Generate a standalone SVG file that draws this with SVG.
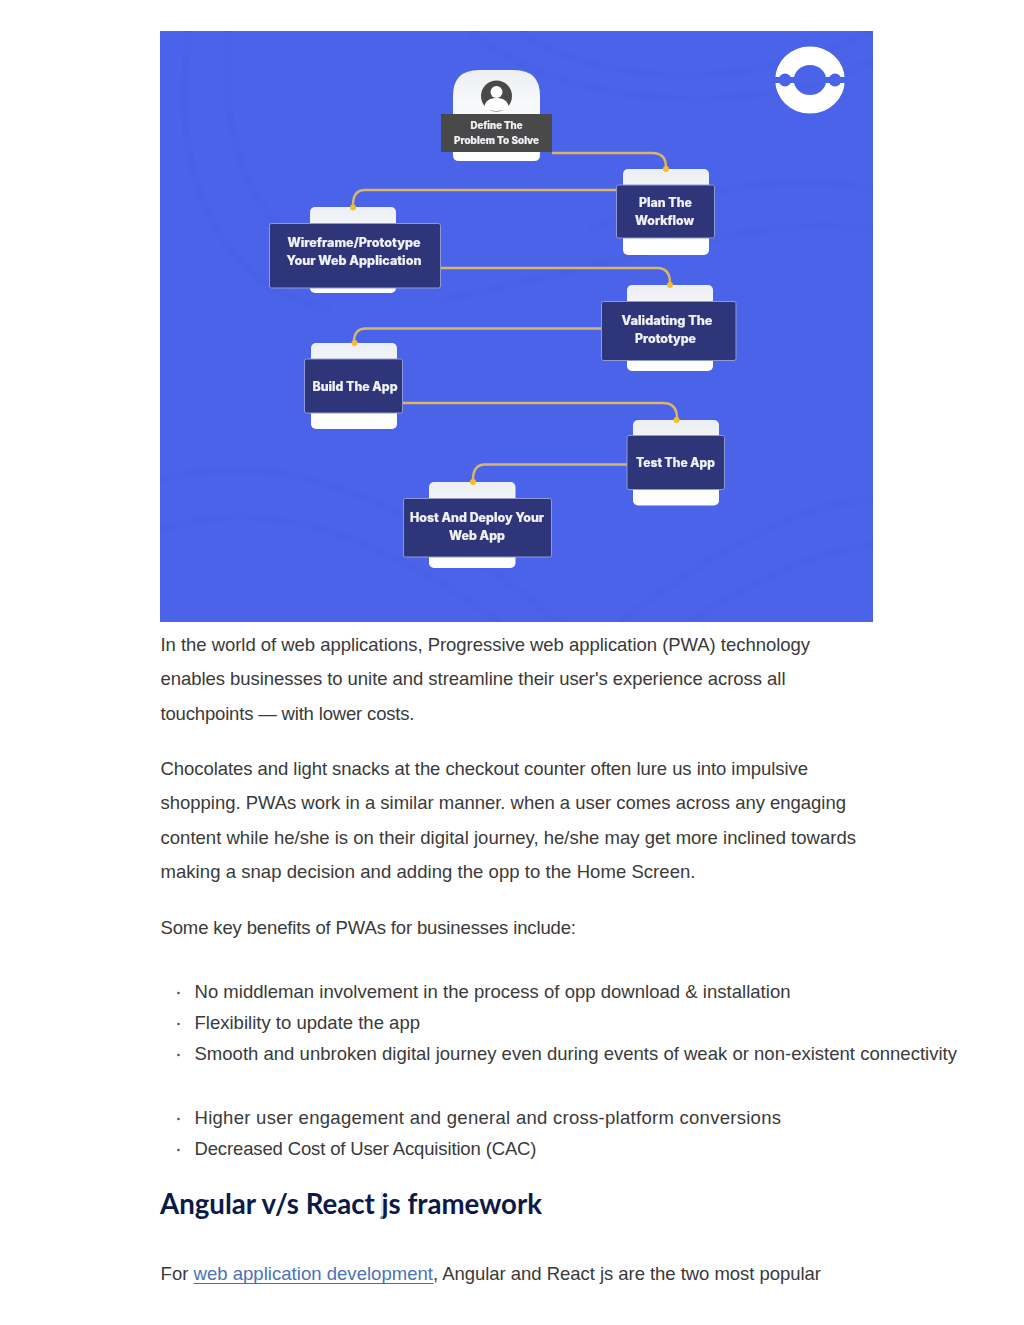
<svg xmlns="http://www.w3.org/2000/svg" width="1024" height="1325" viewBox="0 0 1024 1325">
<style>
.b{font-family:"Liberation Sans",Arial,sans-serif;font-size:18.5px;fill:#3a3a3a}
.l{font-family:"Inter","Liberation Sans",sans-serif;font-weight:800;fill:#f1f2f8;stroke:#f1f2f8;stroke-width:.2;text-anchor:middle}
.lab{fill:#2f3578;stroke:#8e9ad6;stroke-width:1}
.card{fill:url(#cg)}
.c{fill:none;stroke:#d9b566;stroke-width:2.400}
.d{fill:#f6bd2c}
.w{fill:none;stroke:#4159dc;stroke-width:7;opacity:.2}
</style>
<defs>
<linearGradient id="cg" x1="0" y1="0" x2="0" y2="1"><stop offset="0" stop-color="#eceff3"/><stop offset=".35" stop-color="#f7f8fa"/><stop offset="1" stop-color="#ffffff"/></linearGradient>
<clipPath id="pic"><rect x="160" y="31" width="713" height="591"/></clipPath>
<filter id="soft" filterUnits="userSpaceOnUse" x="160" y="31" width="713" height="591"><feGaussianBlur stdDeviation="0.35"/></filter>
</defs>
<rect width="1024" height="1325" fill="#ffffff"/>
<g id="background">
<rect x="160" y="31" width="713" height="591" fill="#4a63e9"/>
<g clip-path="url(#pic)">
<path class="w" d="M190 31C170 150 200 280 330 310"/>
<path class="w" d="M230 31C215 130 250 240 350 270"/>
<path class="w" d="M470 31C560 110 760 120 873 60"/>
<path class="w" d="M520 31C600 90 760 90 873 30"/>
<path class="w" d="M590 230C680 190 800 170 873 190"/>
<path class="w" d="M440 300C600 270 760 210 873 230"/>
<path class="w" d="M160 480C300 440 430 520 560 622"/>
<path class="w" d="M160 530C280 490 400 550 500 622"/>
<path class="w" d="M620 622C700 560 800 500 873 500"/>
<path class="w" d="M690 622C750 580 820 550 873 545"/>
</g>
</g>
<g id="logo" filter="url(#soft)">
<ellipse cx="810" cy="80" rx="25.500" ry="24.300" fill="none" stroke="#fff" stroke-width="18.500"/>
<rect x="770" y="77" width="80" height="6" fill="#4a63e9"/>
<circle cx="785" cy="80" r="6.500" fill="#4a63e9"/>
<circle cx="835" cy="80" r="6.500" fill="#4a63e9"/>
</g>
<g id="connectors" filter="url(#soft)">
<path class="c" d="M552 153H652Q666 153 666 167"/>
<path class="c" d="M616 190H365Q353 190 353 205"/>
<path class="c" d="M441 268H657Q670 268 670 283"/>
<path class="c" d="M601 328.500H366Q354 328.500 354 342"/>
<path class="c" d="M402 403H663Q677 403 677 418"/>
<path class="c" d="M627 464.500H485Q473 464.500 473 480"/>
</g>
<g id="node-define" filter="url(#soft)">
<path class="card" d="M453 155V96Q453 70 479 70H514Q540 70 540 96V155Q540 161 534 161H459Q453 161 453 155Z"/>
<circle cx="496.500" cy="96" r="15.500" fill="#4a4a4a"/>
<circle cx="496.500" cy="92" r="6" fill="#fff"/>
<path d="M484 108C485 100 491 98 496.500 98C502 98 508 100 509 108C503 112 490 112 484 108Z" fill="#fff"/>
<rect x="441" y="114" width="111" height="38" fill="#4a4a4a"/>
<text class="l" x="496.500" y="129" font-size="10" textLength="52" lengthAdjust="spacingAndGlyphs">Define The</text>
<text class="l" x="496.500" y="143.500" font-size="10" textLength="85" lengthAdjust="spacingAndGlyphs">Problem To Solve</text>
</g>
<g id="node-plan" filter="url(#soft)">
<rect class="card" x="623" y="169" width="86" height="86" rx="5"/>
<rect class="lab" x="616.500" y="185" width="98" height="53" rx="2"/>
<text class="l" x="665.500" y="206.500" font-size="12.500" textLength="53" lengthAdjust="spacingAndGlyphs">Plan The</text>
<text class="l" x="664.500" y="224.500" font-size="12.500" textLength="59" lengthAdjust="spacingAndGlyphs">Workflow</text>
<circle class="d" cx="666" cy="169" r="3"/>
</g>
<g id="node-wireframe" filter="url(#soft)">
<rect class="card" x="310" y="207" width="86" height="86" rx="5"/>
<rect class="lab" x="269.500" y="223.500" width="171" height="64.500" rx="2"/>
<text class="l" x="354" y="246.500" font-size="12.500" textLength="133" lengthAdjust="spacingAndGlyphs">Wireframe/Prototype</text>
<text class="l" x="354" y="264.500" font-size="12.500" textLength="135" lengthAdjust="spacingAndGlyphs">Your Web Application</text>
<circle class="d" cx="353" cy="207.500" r="3"/>
</g>
<g id="node-validating" filter="url(#soft)">
<rect class="card" x="627" y="285" width="86" height="86" rx="5"/>
<rect class="lab" x="601.500" y="301.500" width="134.500" height="59" rx="2"/>
<text class="l" x="667" y="324.500" font-size="12.500" textLength="91" lengthAdjust="spacingAndGlyphs">Validating The</text>
<text class="l" x="665.500" y="342.500" font-size="12.500" textLength="61" lengthAdjust="spacingAndGlyphs">Prototype</text>
<circle class="d" cx="670" cy="285" r="3"/>
</g>
<g id="node-build" filter="url(#soft)">
<rect class="card" x="311" y="343" width="86" height="86" rx="5"/>
<rect class="lab" x="304.500" y="359" width="98" height="54" rx="2"/>
<text class="l" x="355" y="390.500" font-size="12.500" textLength="85" lengthAdjust="spacingAndGlyphs">Build The App</text>
<circle class="d" cx="354.500" cy="343" r="3"/>
</g>
<g id="node-test" filter="url(#soft)">
<rect class="card" x="633" y="420" width="86" height="85.500" rx="5"/>
<rect class="lab" x="627" y="435.500" width="97.500" height="54" rx="2"/>
<text class="l" x="675.500" y="466.500" font-size="12.500" textLength="79" lengthAdjust="spacingAndGlyphs">Test The App</text>
<circle class="d" cx="676.500" cy="420" r="3"/>
</g>
<g id="node-host" filter="url(#soft)">
<rect class="card" x="429" y="482" width="86.500" height="86" rx="5"/>
<rect class="lab" x="403.500" y="498.500" width="148" height="58.500" rx="2"/>
<text class="l" x="477" y="521.500" font-size="12.500" textLength="134" lengthAdjust="spacingAndGlyphs">Host And Deploy Your</text>
<text class="l" x="477" y="539.500" font-size="12.500" textLength="56" lengthAdjust="spacingAndGlyphs">Web App</text>
<circle class="d" cx="473" cy="482" r="3"/>
</g>
<g id="body">
<text class="b" x="160.500" y="651" textLength="649.500">In the world of web applications, Progressive web application (PWA) technology</text>
<text class="b" x="160.500" y="685" textLength="625">enables businesses to unite and streamline their user's experience across all</text>
<text class="b" x="160.500" y="720" textLength="254">touchpoints — with lower costs.</text>
<text class="b" x="160.500" y="775" textLength="647.500">Chocolates and light snacks at the checkout counter often lure us into impulsive</text>
<text class="b" x="160.500" y="809" textLength="685.500">shopping. PWAs work in a similar manner. when a user comes across any engaging</text>
<text class="b" x="160.500" y="844" textLength="695.500">content while he/she is on their digital journey, he/she may get more inclined towards</text>
<text class="b" x="160.500" y="878" textLength="535">making a snap decision and adding the opp to the Home Screen.</text>
<text class="b" x="160.500" y="934" textLength="415.500">Some key benefits of PWAs for businesses include:</text>
<circle cx="178.500" cy="993" r="1.300" fill="#555"/>
<circle cx="178.500" cy="1024" r="1.300" fill="#555"/>
<circle cx="178.500" cy="1055" r="1.300" fill="#555"/>
<circle cx="178.500" cy="1119" r="1.300" fill="#555"/>
<circle cx="178.500" cy="1150" r="1.300" fill="#555"/>
<text class="b" x="194.500" y="998" textLength="596">No middleman involvement in the process of opp download &amp; installation</text>
<text class="b" x="194.500" y="1029" textLength="225.500">Flexibility to update the app</text>
<text class="b" x="194.500" y="1060" textLength="762.500">Smooth and unbroken digital journey even during events of weak or non-existent connectivity</text>
<text class="b" x="194.500" y="1124" textLength="586.500">Higher user engagement and general and cross-platform conversions</text>
<text class="b" x="194.500" y="1155" textLength="342">Decreased Cost of User Acquisition (CAC)</text>
<text x="160" y="1214" font-family="Lato,'Liberation Sans',sans-serif" font-weight="700" font-size="29" fill="#0c1a47" textLength="382" lengthAdjust="spacingAndGlyphs">Angular v/s React js framework</text>
<rect x="381.500" y="1192" width="1" height="27" fill="#c9ccd6"/>
<text class="b" x="160.500" y="1280" textLength="28">For</text>
<text class="b" x="193.500" y="1280" textLength="239.500" style="fill:#4a72b8">web application development</text>
<rect x="193.500" y="1283" width="240" height="1" fill="#4a66d0"/>
<text class="b" x="433" y="1280" textLength="388">, Angular and React js are the two most popular</text>
</g>
</svg>
